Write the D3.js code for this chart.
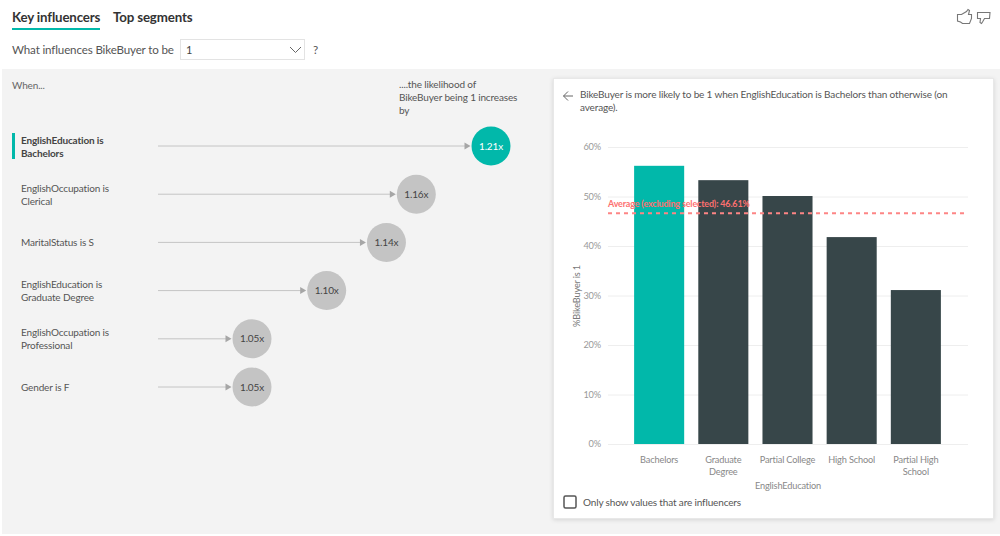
<!DOCTYPE html>
<html>
<head>
<meta charset="utf-8">
<script src="https://cdn.jsdelivr.net/npm/d3@7"></script>
<style>
  html, body { margin: 0; padding: 0; background: #fff; }
  text { font-family: Lato, "Noto Sans", sans-serif; letter-spacing: -0.15px; }
</style>
</head>
<body>
<script>
// influencers list
const influencerLabels = [
  ['EnglishEducation is', 'Bachelors'],
  ['EnglishOccupation is', 'Clerical'],
  ['MaritalStatus is S'],
  ['EnglishEducation is', 'Graduate Degree'],
  ['EnglishOccupation is', 'Professional'],
  ['Gender is F']
];
const influencerValues = [1.21, 1.16, 1.14, 1.10, 1.05, 1.05];

// detail bar chart
const educationLevels = ['Bachelors', 'Graduate Degree', 'Partial College', 'High School', 'Partial High School'];
const educationLines = [['Bachelors'], ['Graduate', 'Degree'], ['Partial College'], ['High School'], ['Partial High', 'School']];
const buyerPercent = [56.2, 53.3, 50.1, 41.8, 31.1];
const percentTicks = [0, 10, 20, 30, 40, 50, 60];
const averagePercent = 46.61;

const width = 1000;
const height = 536;
const teal = '#01b8aa';
const dark = '#374649';

const svg = d3.select('body')
  .append('svg')
  .attr('width', width)
  .attr('height', height)
  .style('display', 'block');

function addText(x, y, str, size, fill, anchor, weight) {
  return svg.append('text')
    .attr('x', x)
    .attr('y', y)
    .attr('font-size', size)
    .attr('fill', fill)
    .attr('text-anchor', anchor || 'start')
    .attr('font-weight', weight || 400)
    .text(str);
}

// Header
addText(12, 22, 'Key influencers', 13.3, '#333', 'start', 700);
addText(113, 22, 'Top segments', 13.3, '#333', 'start', 700);
svg.append('rect').attr('x', 12).attr('y', 28).attr('width', 88).attr('height', 2).attr('fill', teal);

addText(12, 54, 'What influences BikeBuyer to be', 11.6, '#555');
svg.append('rect')
  .attr('x', 180.5).attr('y', 39.5).attr('width', 124).attr('height', 20)
  .attr('fill', '#fff').attr('stroke', '#e3e3e3');
addText(186, 54, '1', 11, '#444');
svg.append('path')
  .attr('d', 'M290 47l5.5 5.5 5.5-5.5')
  .attr('fill', 'none').attr('stroke', '#666');
addText(313, 54, '?', 11.6, '#555');

// thumbs icons
const thumbUp = 'M957.5 21v-6.5h4l5-3 1.5-2 1.5 1-1 4h3v4l-2 5h-7l-2-1.5z';
const thumbDown = 'M977.5 12.5h12.5l-.5 6h-5l-2 3.5-1 1.5-1.5-1 .5-4h-3z';
svg.append('path').attr('d', thumbUp).attr('fill', 'none').attr('stroke', '#777').attr('stroke-width', 1.1);
svg.append('path').attr('d', thumbDown).attr('fill', 'none').attr('stroke', '#777').attr('stroke-width', 1.1);

// Grey panel
svg.append('rect').attr('x', 2).attr('y', 69).attr('width', 998).attr('height', 465).attr('fill', '#f3f3f3');

addText(12, 89, 'When...', 10, '#666');
['....the likelihood of', 'BikeBuyer being 1 increases', 'by'].forEach((s, i) => {
  addText(399, 88 + i * 13, s, 10, '#555');
});

// Influencer rows
const xInfluence = d3.scaleLinear().domain([1.05, 1.21]).range([252, 491]);
const yRow = d3.scalePoint().domain(d3.range(influencerValues.length)).range([146, 387]);
const radius = 19.5;

const rows = svg.selectAll('.row')
  .data(influencerValues)
  .enter()
  .append('g')
  .attr('class', 'row')
  .attr('transform', (d, i) => `translate(0,${yRow(i)})`);

rows.append('line')
  .attr('x1', 158)
  .attr('x2', d => xInfluence(d) - radius - 3)
  .attr('stroke', '#c4c4c4')
  .attr('stroke-width', 1);

rows.append('path')
  .attr('d', d => {
    const tip = xInfluence(d) - radius - 1;
    return `M${tip - 6} -3.5L${tip} 0L${tip - 6} 3.5Z`;
  })
  .attr('fill', '#a6a6a6');

rows.append('circle')
  .attr('cx', d => xInfluence(d))
  .attr('r', radius)
  .attr('fill', (d, i) => (i === 0 ? teal : '#c4c4c4'));

rows.append('text')
  .attr('x', d => xInfluence(d))
  .attr('dy', '0.35em')
  .attr('text-anchor', 'middle')
  .attr('font-size', 10)
  .attr('fill', (d, i) => (i === 0 ? '#fff' : '#444'))
  .text(d => d.toFixed(2) + 'x');

rows.append('text')
  .attr('font-size', 10)
  .attr('fill', (d, i) => (i === 0 ? '#444' : '#555'))
  .attr('font-weight', (d, i) => (i === 0 ? 700 : 400))
  .each(function (d, i) {
    const lines = influencerLabels[i];
    d3.select(this).selectAll('tspan')
      .data(lines)
      .enter()
      .append('tspan')
      .attr('x', 21)
      .attr('y', (s, j) => (lines.length === 2 ? -2.5 + j * 13 : 4))
      .text(s => s);
  });

svg.append('rect').attr('x', 12).attr('y', 133).attr('width', 3).attr('height', 26).attr('fill', teal);

// Detail card
svg.append('rect')
  .attr('x', 553.5).attr('y', 78.5).attr('width', 440).attr('height', 440)
  .attr('fill', '#fff').attr('stroke', '#e8e8e8')
  .style('filter', 'drop-shadow(0 1px 2px rgba(0,0,0,0.12))');

svg.append('path')
  .attr('d', 'M573 96h-9.5M568 91.5l-4.5 4.5 4.5 4.5')
  .attr('fill', 'none').attr('stroke', '#666');
addText(580, 98, 'BikeBuyer is more likely to be 1 when EnglishEducation is Bachelors than otherwise (on', 10, '#555');
addText(580, 111, 'average).', 10, '#555');

// Bar chart
const xBand = d3.scaleBand().domain(educationLevels).range([620, 955]).padding(0.22);
const yPercent = d3.scaleLinear().domain([0, 60]).range([444, 147]);

const yAxis = d3.axisLeft(yPercent)
  .tickValues(percentTicks)
  .tickFormat(d => d + '%')
  .tickSize(-(968 - 608));

const yAxisG = svg.append('g')
  .attr('transform', 'translate(608,0)')
  .call(yAxis);
yAxisG.select('.domain').remove();
yAxisG.selectAll('.tick line').attr('stroke', '#eeeeee');
yAxisG.selectAll('.tick text')
  .attr('x', -7)
  .attr('fill', '#999')
  .attr('font-size', 9.2)
  .attr('font-family', 'Lato, sans-serif');

svg.selectAll('.bar')
  .data(buyerPercent)
  .enter()
  .append('rect')
  .attr('class', 'bar')
  .attr('x', (d, i) => xBand(educationLevels[i]))
  .attr('y', d => yPercent(d))
  .attr('width', xBand.bandwidth())
  .attr('height', d => yPercent(0) - yPercent(d))
  .attr('fill', (d, i) => (i === 0 ? teal : dark));

// x labels
svg.selectAll('.cat')
  .data(educationLevels)
  .enter()
  .append('text')
  .attr('class', 'cat')
  .attr('font-size', 9.2)
  .attr('fill', '#888')
  .attr('text-anchor', 'middle')
  .each(function (d, i) {
    const cx = xBand(d) + xBand.bandwidth() / 2;
    d3.select(this).selectAll('tspan')
      .data(educationLines[i])
      .enter()
      .append('tspan')
      .attr('x', cx)
      .attr('y', (s, j) => 463 + j * 12)
      .text(s => s);
  });

addText(788, 489, 'EnglishEducation', 9.2, '#888', 'middle');

svg.append('text')
  .attr('transform', 'translate(580,296) rotate(-90)')
  .attr('text-anchor', 'middle')
  .attr('font-size', 9.2)
  .attr('fill', '#777')
  .text('%BikeBuyer is 1');

// average line
svg.append('line')
  .attr('x1', 608)
  .attr('x2', 968)
  .attr('y1', yPercent(averagePercent))
  .attr('y2', yPercent(averagePercent))
  .attr('stroke', '#fd8585')
  .attr('stroke-width', 2)
  .attr('stroke-dasharray', '4 4');

addText(608, 206.5, 'Average (excluding selected): ' + averagePercent + '%', 8.95, '#fd7070', 'start', 700);

// checkbox
svg.append('rect')
  .attr('x', 564).attr('y', 496).attr('width', 12).attr('height', 12).attr('rx', 1.5)
  .attr('fill', '#fff').attr('stroke', '#555').attr('stroke-width', 1.5);
addText(583, 506, 'Only show values that are influencers', 10, '#555');
</script>
</body>
</html>
